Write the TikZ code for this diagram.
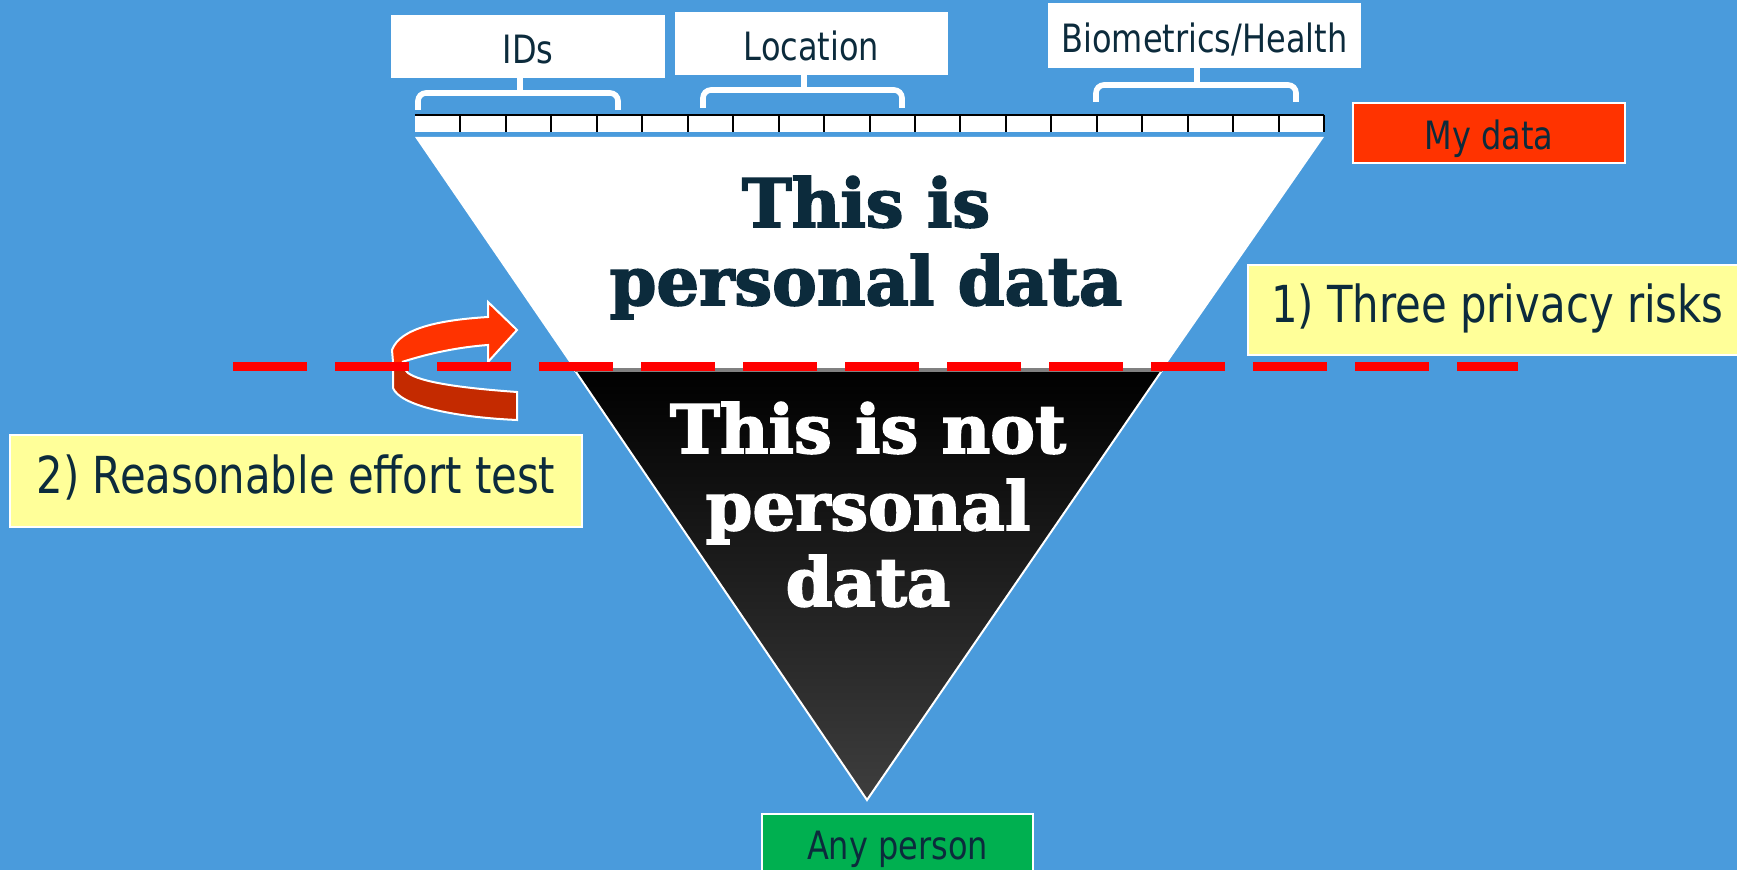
\documentclass[tikz,border=0pt]{standalone}
\usepackage{fontspec}
\newfontfamily\labelfont{DejaVu Sans}[FakeStretch=0.82]
\newfontfamily\slabfont{DejaVu Serif}[BoldFeatures={FakeBold=2.5}]
\definecolor{bgblue}{HTML}{4A9BDC}
\definecolor{navy}{HTML}{0C2B3C}
\definecolor{redorange}{HTML}{FF3300}
\definecolor{darkred}{HTML}{C42A00}
\definecolor{paleyellow}{HTML}{FFFF99}
\definecolor{okgreen}{HTML}{00B050}
\definecolor{dashred}{HTML}{FF0000}
\definecolor{seamgray}{HTML}{808080}
\definecolor{funnelbottom}{HTML}{3E3E3E}
\tikzset{
 tag/.style={rectangle, inner sep=0pt, text height=17pt, text depth=0pt, font=\labelfont\fontsize{19.5}{23}\selectfont, text=navy},
 whitetag/.style={tag, fill=white},
 colortag/.style={tag, draw=white, line width=1pt},
 note/.style={rectangle, fill=paleyellow, draw=white, line width=1pt, inner ysep=0pt, text height=12.5pt, text depth=0pt, font=\labelfont\fontsize{25.5}{30}\selectfont, text=navy},
 slab/.style={inner sep=0pt, anchor=base, font=\slabfont\bfseries\fontsize{33.5}{38}\selectfont},
 brace/.style={draw=white, line width=2.8pt, rounded corners=4pt},
 tickline/.style={draw=black, line width=1pt},
}
\begin{document}
\begin{tikzpicture}[x=0.5pt,y=-0.5pt]
\useasboundingbox (0,0) rectangle (1737,870);
\fill[bgblue] (0,0) rectangle (1737,870);
% funnel
\coordinate (tl) at (415,137);
\coordinate (tr) at (1324,137);
\coordinate (ml) at (574,369);
\coordinate (mr) at (1163,369);
\coordinate (apex) at (867,800);
\fill[white] (tl) -- (tr) -- (mr) -- (ml) -- cycle;
\shade[top color=black, bottom color=funnelbottom] (ml) -- (mr) -- (apex) -- cycle;
\draw[white, line width=1pt] (ml) -- (apex) -- (mr);
\draw[seamgray, line width=2pt] (575,370) -- (1162,370);
% ruler
\fill[white] (415,115) rectangle (1324,132);
\draw[black, line width=1.2pt] (415,115) -- (1324,115);
\foreach \k in {1,...,20} \draw[tickline] ({415+45.45*\k},115) -- ({415+45.45*\k},132);
% label boxes
\node[whitetag, minimum width=137pt, minimum height=31.5pt] (ids) at (528,46.5) {IDs};
\node[whitetag, minimum width=136.5pt, minimum height=31.5pt] (loc) at (811.5,43.5) {Location};
\node[whitetag, minimum width=156.5pt, minimum height=32.5pt] (bio) at (1204.5,35.5) {Biometrics/Health};
\node[colortag, fill=redorange, minimum width=136pt, minimum height=30pt] (mydata) at (1489,133) {My data};
\node[colortag, fill=okgreen, minimum width=135.5pt, minimum height=29pt] (anyone) at (897.5,843) {Any person};
% brackets
\coordinate (idsbar) at (520,93);
\draw[brace] (418,110) -- (418,93) -- (618,93) -- (618,110);
\draw[brace] (ids.south -| idsbar) -- (idsbar);
\coordinate (locbar) at (804,90);
\draw[brace] (703,108) -- (703,90) -- (902,90) -- (902,108);
\draw[brace] (loc.south -| locbar) -- (locbar);
\coordinate (biobar) at (1197,85);
\draw[brace] (1096,102) -- (1096,85) -- (1296,85) -- (1296,102);
\draw[brace] (bio.south -| biobar) -- (biobar);
% u-turn arrow
\filldraw[fill=darkred, draw=white, line width=1pt] (393,362) -- (393,388) .. controls (400,405) and (450,417) .. (517,420) -- (517,392) .. controls (460,388) and (420,382) .. (408,373) .. controls (404,369) and (402,365) .. (402,362) -- cycle;
\fill[redorange] (517,330) -- (488,302) -- (488,317) .. controls (440,320) and (400,328) .. (392,350) -- (393,362) -- (402,362) .. controls (430,353) and (460,347) .. (488,345) -- (488,362) -- cycle;
\draw[white, line width=1pt, line join=miter] (393,362) -- (392,350) .. controls (400,328) and (440,320) .. (488,317) -- (488,302) -- (517,330) -- (488,362) -- (488,345) .. controls (460,347) and (430,353) .. (402,362);
% dashed threshold
\coordinate (dashL) at (233,367);
\coordinate (dashR) at (1518,367);
\draw[dashred, line width=4.5pt, dash pattern=on 37pt off 14pt] (dashL) -- (dashR);
% funnel texts
\node[slab, text=navy] (p1) at (866,227) {This is};
\node[slab, text=navy] (p2) at (866,305) {personal data};
\node[slab, text=white] (n1) at (868,453) {This is not};
\node[slab, text=white] (n2) at (868,530) {personal};
\node[slab, text=white] (n3) at (868,606) {data};
% notes
\node[note, minimum width=286pt, minimum height=46pt, inner xsep=0pt] (effort) at (296,481) {2) Reasonable effort test};
\node[note, anchor=west, minimum height=45pt, inner xsep=11.5pt] (risks) at (1247,310) {1) Three privacy risks};
\end{tikzpicture}
\end{document}
